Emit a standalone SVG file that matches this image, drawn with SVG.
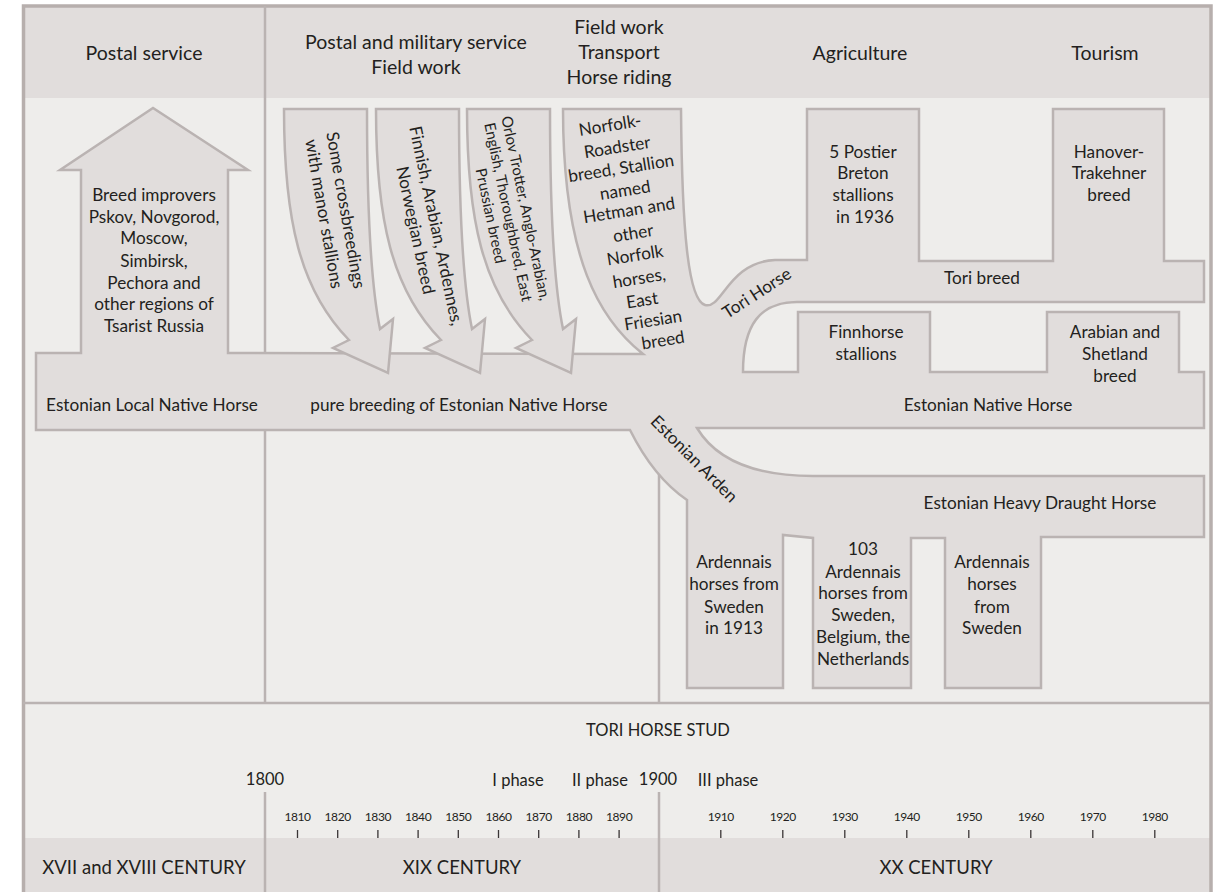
<svg xmlns="http://www.w3.org/2000/svg" width="1217" height="892" viewBox="0 0 1217 892">
<defs>
<style>
.t{font-family:Lato,"Open Sans","Noto Sans",sans-serif;fill:#231f20;text-anchor:middle}
.h{font-size:19.5px}
.c{font-size:18.5px}
.b{font-size:17.2px}
.m{font-size:16.5px}
.s{font-size:15px}
.k{font-size:12px;letter-spacing:-0.4px}
.shape{fill:#e1dddc;stroke:#bab3b2;stroke-width:2.5;stroke-linejoin:miter}
.div{stroke:#bab3b2;stroke-width:2.5;fill:none}
.tick{stroke:#3a3536;stroke-width:1.3}
</style>
<path id="bent" d="M 284,109 L 367,109 C 367,220 372,290 380,329 L 393,319 L 388,373 L 333,348 L 349,340 C 300,290 284,220 284,109 Z"/>
</defs>
<g id="background">
<rect x="0" y="0" width="1217" height="892" fill="#ffffff"/>
<rect x="23" y="6" width="1188" height="92" fill="#e1dddc"/>
<rect x="23" y="98" width="1188" height="740" fill="#eeedeb"/>
<rect x="23" y="838" width="1188" height="60" fill="#e1dddc"/>
<rect x="23.5" y="6" width="1187.5" height="900" fill="none" stroke="#b7afad" stroke-width="3.5"/>
</g>
<g id="dividers">
<line class="div" x1="265" y1="6" x2="265" y2="703"/>
<line class="div" x1="659" y1="440" x2="659" y2="703"/>
<line class="div" x1="23" y1="703" x2="1211" y2="703"/>
<line class="div" x1="265" y1="792" x2="265" y2="892"/>
<line class="div" x1="659" y1="792" x2="659" y2="892"/>
</g>
<g id="header">
<text class="t h" x="144" y="60">Postal service</text>
<text class="t h" x="416" y="49">Postal and military service</text>
<text class="t h" x="416" y="74">Field work</text>
<text class="t h" x="619" y="34">Field work</text>
<text class="t h" x="619" y="59">Transport</text>
<text class="t h" x="619" y="84">Horse riding</text>
<text class="t h" x="860" y="60">Agriculture</text>
<text class="t h" x="1105" y="60">Tourism</text>
</g>
<g id="main-flow">
<path class="shape" d="M 36,353 L 81,353 L 81,170 L 60,170 L 153,108 L 248,170 L 228,170 L 228,353 L 643,354 C 600,320 563,260 563,109 L 681,109 C 682,230 688,300 705,305 C 722,310 728,262 775,260 L 807,260 L 807,109 L 919,109 L 919,261 L 1053,261 L 1053,109 L 1164,109 L 1164,261 L 1204,261 L 1204,302 L 797,302 C 760,302 743,325 743,372 L 798,372 L 798,312 L 930,312 L 930,372 L 1047,372 L 1047,312 L 1179,312 L 1179,372 L 1204,372 L 1204,428 L 697,428 C 715,458 750,476 813,476 L 1204,476 L 1204,537 L 1041,537 L 1041,688 L 945,688 L 945,538 L 911,538 L 911,688 L 813,688 L 813,538 L 783,535 L 783,688 L 687,688 L 687,500 C 665,485 645,460 630,430 L 36,430 Z"/>
</g>
<g id="arrow-crossbreedings"><use href="#bent" class="shape"/></g>
<g id="arrow-finnish"><use href="#bent" class="shape" transform="translate(92,0)"/></g>
<g id="arrow-orlov"><use href="#bent" class="shape" transform="translate(183,0)"/></g>
<g id="node-improvers">
<text class="t b" x="154" y="201">Breed improvers</text>
<text class="t b" x="154" y="223">Pskov, Novgorod,</text>
<text class="t b" x="154" y="244">Moscow,</text>
<text class="t b" x="154" y="267">Simbirsk,</text>
<text class="t b" x="154" y="289">Pechora and</text>
<text class="t b" x="154" y="310">other regions of</text>
<text class="t b" x="154" y="332">Tsarist Russia</text>
</g>
<g id="node-local">
<text class="t b" x="152" y="411">Estonian Local Native Horse</text>
<text class="t b" x="459" y="411">pure breeding of Estonian Native Horse</text>
</g>
<g id="label-crossbreedings" transform="translate(335,212) rotate(80)">
<text class="t b" x="0" y="-5">Some crossbreedings</text>
<text class="t b" x="0" y="17">with manor stallions</text>
</g>
<g id="label-finnish" transform="translate(426,228) rotate(78)">
<text class="t b" x="0" y="-4.5">Finnish, Arabian, Ardennes,</text>
<text class="t b" x="0" y="16.5">Norwegian breed</text>
</g>
<g id="label-orlov" transform="translate(508,212) rotate(78)">
<text class="t s" x="0" y="-13">Orlov Trotter, Anglo-Arabian,</text>
<text class="t s" x="0" y="5">English, Thoroughbred, East</text>
<text class="t s" x="0" y="23">Prussian breed</text>
</g>
<g id="node-norfolk" class="t b">
<text transform="translate(611,131) rotate(-9)">Norfolk-</text>
<text transform="translate(618,153) rotate(-9)">Roadster</text>
<text transform="translate(622,174) rotate(-9)">breed, Stallion</text>
<text transform="translate(626,196) rotate(-9)">named</text>
<text transform="translate(630,216) rotate(-9)">Hetman and</text>
<text transform="translate(634,239) rotate(-9)">other</text>
<text transform="translate(636,261) rotate(-9)">Norfolk</text>
<text transform="translate(640,284) rotate(-9)">horses,</text>
<text transform="translate(643,306) rotate(-9)">East</text>
<text transform="translate(654,326) rotate(-9)">Friesian</text>
<text transform="translate(664,346) rotate(-9)">breed</text>
</g>
<g id="label-tori-horse">
<text class="t b" transform="translate(760,298) rotate(-33)">Tori Horse</text>
</g>
<g id="node-postier">
<text class="t b" x="863" y="158">5 Postier</text>
<text class="t b" x="863" y="179">Breton</text>
<text class="t b" x="863" y="201">stallions</text>
<text class="t b" x="865" y="223">in 1936</text>
</g>
<g id="node-hanover">
<text class="t b" x="1109" y="158">Hanover-</text>
<text class="t b" x="1109" y="179">Trakehner</text>
<text class="t b" x="1109" y="201">breed</text>
</g>
<g id="node-tori-breed"><text class="t b" x="982" y="284">Tori breed</text></g>
<g id="node-finnhorse">
<text class="t b" x="866" y="338">Finnhorse</text>
<text class="t b" x="866" y="360">stallions</text>
</g>
<g id="node-arabian">
<text class="t b" x="1115" y="338">Arabian and</text>
<text class="t b" x="1115" y="360">Shetland</text>
<text class="t b" x="1115" y="382">breed</text>
</g>
<g id="node-native"><text class="t b" x="988" y="411">Estonian Native Horse</text></g>
<g id="label-arden"><text class="t b" transform="translate(690,463) rotate(45)">Estonian Arden</text></g>
<g id="node-heavy"><text class="t b" x="1040" y="509">Estonian Heavy Draught Horse</text></g>
<g id="node-ard1">
<text class="t b" x="734" y="568">Ardennais</text>
<text class="t b" x="734" y="590">horses from</text>
<text class="t b" x="734" y="613">Sweden</text>
<text class="t b" x="734" y="634">in 1913</text>
</g>
<g id="node-ard2">
<text class="t b" x="863" y="555">103</text>
<text class="t b" x="863" y="578">Ardennais</text>
<text class="t b" x="863" y="599">horses from</text>
<text class="t b" x="863" y="621">Sweden,</text>
<text class="t b" x="863" y="643">Belgium, the</text>
<text class="t b" x="863" y="665">Netherlands</text>
</g>
<g id="node-ard3">
<text class="t b" x="992" y="568">Ardennais</text>
<text class="t b" x="992" y="590">horses</text>
<text class="t b" x="992" y="613">from</text>
<text class="t b" x="992" y="634">Sweden</text>
</g>
<g id="timeline">
<text class="t m" x="658" y="736">TORI HORSE STUD</text>
<text class="t m" x="265" y="785">1800</text>
<text class="t m" x="518" y="786">I phase</text>
<text class="t m" x="600" y="786">II phase</text>
<text class="t m" x="658" y="785">1900</text>
<text class="t m" x="728" y="786">III phase</text>
<g class="t k">
<text x="297.5" y="821">1810</text><text x="337.7" y="821">1820</text><text x="377.9" y="821">1830</text>
<text x="418.1" y="821">1840</text><text x="458.3" y="821">1850</text><text x="498.5" y="821">1860</text>
<text x="538.7" y="821">1870</text><text x="578.9" y="821">1880</text><text x="619.1" y="821">1890</text>
<text x="720.8" y="821">1910</text><text x="782.8" y="821">1920</text><text x="844.8" y="821">1930</text>
<text x="906.8" y="821">1940</text><text x="968.8" y="821">1950</text><text x="1030.8" y="821">1960</text>
<text x="1092.8" y="821">1970</text><text x="1154.8" y="821">1980</text>
</g>
<path class="tick" d="M297.5,830V838M337.7,830V838M377.9,830V838M418.1,830V838M458.3,830V838M498.5,830V838M538.7,830V838M578.9,830V838M619.1,830V838M720.8,830V838M782.8,830V838M844.8,830V838M906.8,830V838M968.8,830V838M1030.8,830V838M1092.8,830V838M1154.8,830V838"/>
</g>
<g id="centuries">
<text class="t c" x="144" y="874">XVII and XVIII CENTURY</text>
<text class="t c" x="462" y="874">XIX CENTURY</text>
<text class="t c" x="936" y="874">XX CENTURY</text>
</g>
</svg>
